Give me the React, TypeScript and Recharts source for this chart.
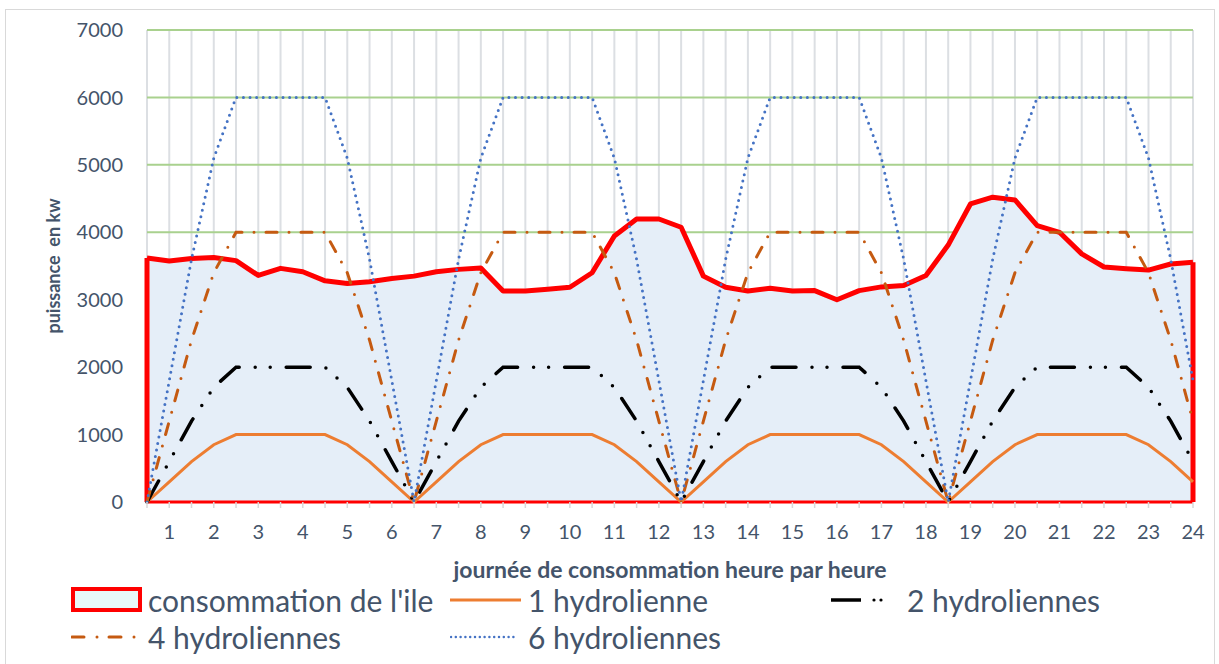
import React from 'react';
import { ComposedChart, Area, Line, XAxis, YAxis, CartesianGrid, ReferenceLine } from 'recharts';

const halfHours = [
  '0.5', '1', '1.5', '2', '2.5', '3', '3.5', '4', '4.5', '5', '5.5', '6',
  '6.5', '7', '7.5', '8', '8.5', '9', '9.5', '10', '10.5', '11', '11.5', '12',
  '12.5', '13', '13.5', '14', '14.5', '15', '15.5', '16', '16.5', '17', '17.5', '18',
  '18.5', '19', '19.5', '20', '20.5', '21', '21.5', '22', '22.5', '23', '23.5', '24',
];

const consommation = [
  3620, 3575, 3610, 3625, 3580, 3360, 3465, 3415, 3280, 3240, 3265, 3315,
  3350, 3415, 3450, 3470, 3130, 3130, 3155, 3185, 3400, 3945, 4197, 4197,
  4075, 3350, 3185, 3130, 3170, 3130, 3135, 3000, 3135, 3190, 3210, 3360,
  3810, 4420, 4520, 4480, 4100, 4000, 3680, 3485, 3460, 3440, 3530, 3555,
];

const hydro1 = [
  0, 300, 600, 850, 1000, 1000, 1000, 1000, 1000, 850, 600, 300,
  0, 300, 600, 850, 1000, 1000, 1000, 1000, 1000, 850, 600, 300,
  0, 300, 600, 850, 1000, 1000, 1000, 1000, 1000, 850, 600, 300,
  0, 300, 600, 850, 1000, 1000, 1000, 1000, 1000, 850, 600, 300,
];

const hydro2 = [
  0, 600, 1200, 1700, 2000, 2000, 2000, 2000, 2000, 1700, 1200, 600,
  0, 600, 1200, 1700, 2000, 2000, 2000, 2000, 2000, 1700, 1200, 600,
  0, 600, 1200, 1700, 2000, 2000, 2000, 2000, 2000, 1700, 1200, 600,
  0, 600, 1200, 1700, 2000, 2000, 2000, 2000, 2000, 1700, 1200, 600,
];

const hydro4 = [
  0, 1200, 2400, 3400, 4000, 4000, 4000, 4000, 4000, 3400, 2400, 1200,
  0, 1200, 2400, 3400, 4000, 4000, 4000, 4000, 4000, 3400, 2400, 1200,
  0, 1200, 2400, 3400, 4000, 4000, 4000, 4000, 4000, 3400, 2400, 1200,
  0, 1200, 2400, 3400, 4000, 4000, 4000, 4000, 4000, 3400, 2400, 1200,
];

const hydro6 = [
  0, 1800, 3600, 5100, 6000, 6000, 6000, 6000, 6000, 5100, 3600, 1800,
  0, 1800, 3600, 5100, 6000, 6000, 6000, 6000, 6000, 5100, 3600, 1800,
  0, 1800, 3600, 5100, 6000, 6000, 6000, 6000, 6000, 5100, 3600, 1800,
  0, 1800, 3600, 5100, 6000, 6000, 6000, 6000, 6000, 5100, 3600, 1800,
];

const yTicks = [0, 1000, 2000, 3000, 4000, 5000, 6000, 7000];

const seriesNames = {
  conso: "consommation de l'ile",
  h1: '1 hydrolienne',
  h2: '2 hydroliennes',
  h4: '4 hydroliennes',
  h6: '6 hydroliennes',
};

const data = halfHours.map((h, i) => ({
  h,
  conso: consommation[i],
  h1: hydro1[i],
  h2: hydro2[i],
  h4: hydro4[i],
  h6: hydro6[i],
}));

const FONT = 'Lato, Carlito, Calibri, sans-serif';
const TEXT = '#44546a';
const RED = '#ff0000';
const FILL = '#e5eef8';
const ORANGE = '#ed7d31';
const BROWN = '#c55a11';
const BLUE = '#4472c4';

const DASH_H2 = '24 16 0 15 0 16';
const DASH_H4 = '11 12 0 12';
const DASH_H6 = '0 6.6';

const YTitle = () => {
  const cx = 60;
  const cy = 266;
  return (
    <text
      x={cx}
      y={cy}
      transform={`rotate(-90 ${cx} ${cy})`}
      textAnchor="middle"
      fontFamily={FONT}
      fontWeight={700}
      fontSize={18}
      fill={TEXT}
      style={{ whiteSpace: 'pre' }}
    >
      {'puissance  en kw'}
    </text>
  );
};

const legendText: React.CSSProperties = {
  position: 'absolute',
  fontFamily: FONT,
  fontSize: 30,
  lineHeight: '36px',
  color: TEXT,
  whiteSpace: 'nowrap',
};

const Icon = ({ kind }: { kind: string }) => {
  if (kind === 'conso') {
    return (
      <svg width={72} height={28}>
        <rect x={2} y={3} width={67} height={21} fill="#e8f8f8" stroke={RED} strokeWidth={4} />
      </svg>
    );
  }
  if (kind === 'h1') {
    return (
      <svg width={72} height={28}>
        <line x1={0} y1={14} x2={71} y2={14} stroke={ORANGE} strokeWidth={3} />
      </svg>
    );
  }
  if (kind === 'h2') {
    return (
      <svg width={72} height={28}>
        <line x1={0} y1={14} x2={30} y2={14} stroke="#000" strokeWidth={3.5} />
        <circle cx={43} cy={14} r={1.6} fill="#000" />
        <circle cx={50} cy={14} r={1.6} fill="#000" />
      </svg>
    );
  }
  if (kind === 'h4') {
    return (
      <svg width={72} height={28}>
        <line x1={1} y1={14} x2={66} y2={14} stroke={BROWN} strokeWidth={3} strokeLinecap="round" strokeDasharray="12 13 0 12" />
      </svg>
    );
  }
  return (
    <svg width={72} height={28}>
      <line x1={1} y1={14} x2={68} y2={14} stroke={BLUE} strokeWidth={2.5} strokeLinecap="round" strokeDasharray="0 4.8" />
    </svg>
  );
};

const legendItems = [
  { kind: 'conso', label: seriesNames.conso, iconX: 71, textX: 148, cy: 600 },
  { kind: 'h1', label: seriesNames.h1, iconX: 450, textX: 528, cy: 600 },
  { kind: 'h2', label: seriesNames.h2, iconX: 831, textX: 907, cy: 600 },
  { kind: 'h4', label: seriesNames.h4, iconX: 71, textX: 148, cy: 637 },
  { kind: 'h6', label: seriesNames.h6, iconX: 450, textX: 528, cy: 637 },
];

export default function App() {
  return (
    <div style={{ position: 'absolute', left: 0, top: 0, width: 1219, height: 664, background: '#fff', overflow: 'hidden' }}>
      <div style={{ position: 'absolute', left: 5, top: 9, width: 1210, height: 670, border: '1.5px solid #d9d9d9', boxSizing: 'border-box' }} />
      <div style={{ position: 'absolute', left: 0, top: 0 }}>
        <ComposedChart width={1219} height={664} data={data} margin={{ top: 30, right: 26, bottom: 104, left: 0 }}>
          <CartesianGrid horizontal={false} vertical stroke="#dcdfe3" strokeWidth={2} />
          <CartesianGrid vertical={false} horizontal stroke="#a9d18e" strokeWidth={2} />
          <XAxis
            dataKey="h"
            interval={0}
            tickFormatter={(v: string) => (Number.isInteger(Number(v)) ? v : '')}
            tick={{ fontFamily: FONT, fontSize: 20, fill: TEXT }}
            tickLine={{ stroke: '#d9d9d9', strokeWidth: 1.5 }}
            tickSize={6}
            tickMargin={17}
            axisLine={false}
            height={58}
            label={{
              value: 'journée de consommation heure par heure',
              position: 'bottom',
              offset: 2,
              style: { fontFamily: FONT, fontWeight: 700, fontSize: 23, fill: TEXT },
            }}
          />
          <YAxis
            width={147}
            domain={[0, 7000]}
            ticks={yTicks}
            interval={0}
            axisLine={false}
            tickLine={false}
            tickSize={0}
            tickMargin={24}
            tick={{ fontFamily: FONT, fontSize: 20, fill: TEXT }}
            label={<YTitle />}
          />
          <Area
            dataKey="conso"
            name={seriesNames.conso}
            type="linear"
            fill={FILL}
            fillOpacity={1}
            stroke={RED}
            strokeWidth={5}
            strokeLinejoin="round"
            isAnimationActive={false}
          />
          <ReferenceLine y={0} stroke={RED} strokeWidth={3} />
          <ReferenceLine
            segment={[{ x: halfHours[0], y: 0 }, { x: halfHours[0], y: consommation[0] }]}
            stroke={RED}
            strokeWidth={5}
          />
          <ReferenceLine
            segment={[{ x: halfHours[halfHours.length - 1], y: 0 }, { x: halfHours[halfHours.length - 1], y: consommation[consommation.length - 1] }]}
            stroke={RED}
            strokeWidth={5}
          />
          <Line dataKey="h1" name={seriesNames.h1} type="linear" stroke={ORANGE} strokeWidth={3} dot={false} isAnimationActive={false} />
          <Line dataKey="h2" name={seriesNames.h2} type="linear" stroke="#000" strokeWidth={3.5} strokeLinecap="round" strokeDasharray={DASH_H2} dot={false} isAnimationActive={false} />
          <Line dataKey="h4" name={seriesNames.h4} type="linear" stroke={BROWN} strokeWidth={3} strokeLinecap="round" strokeDasharray={DASH_H4} dot={false} isAnimationActive={false} />
          <Line dataKey="h6" name={seriesNames.h6} type="linear" stroke={BLUE} strokeWidth={3} strokeLinecap="round" strokeDasharray={DASH_H6} dot={false} isAnimationActive={false} />
        </ComposedChart>
      </div>
      {legendItems.map((it) => (
        <React.Fragment key={it.kind}>
          <div style={{ position: 'absolute', left: it.iconX, top: it.cy - 14, width: 72, height: 28 }}>
            <Icon kind={it.kind} />
          </div>
          <div style={{ ...legendText, left: it.textX, top: it.cy - 18 }}>{it.label}</div>
        </React.Fragment>
      ))}
    </div>
  );
}
